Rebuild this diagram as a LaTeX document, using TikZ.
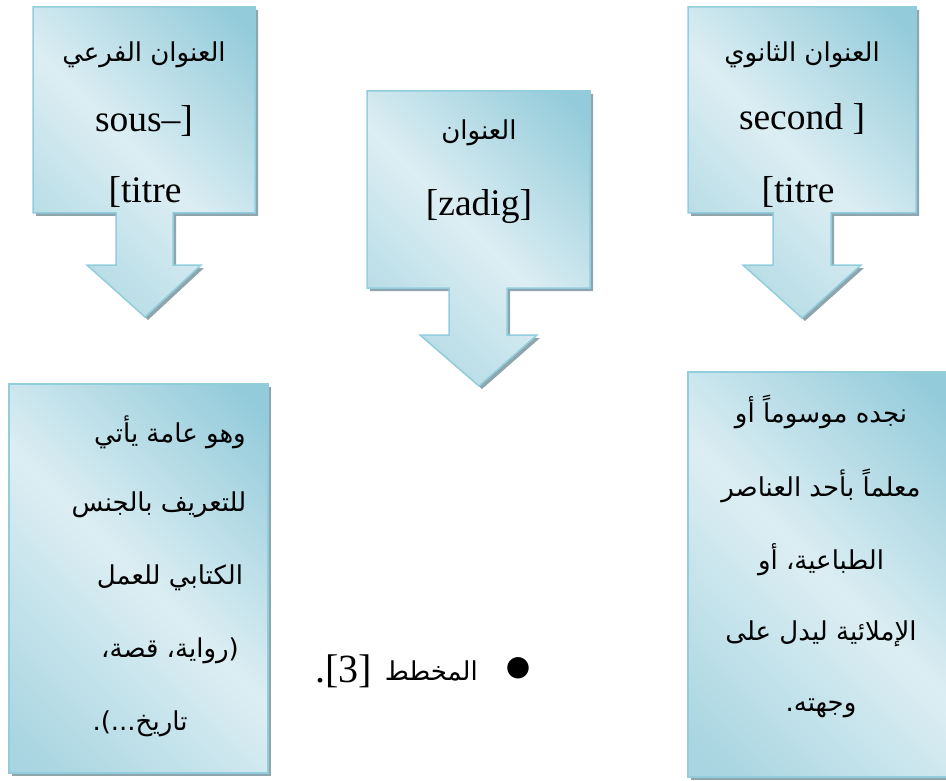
\documentclass[tikz,border=0pt]{standalone}
\usepackage{fontspec}
\TeXXeTstate=1
\newfontfamily\arabicfont[Script=Arabic]{DejaVu Sans}
\newfontfamily\symfont{DejaVu Sans}
\newfontfamily\latinfont{Liberation Serif}
\definecolor{shdark}{HTML}{93CBDA}
\definecolor{shmid}{HTML}{A8D5E1}
\definecolor{shlight}{HTML}{DCEEF3}
\definecolor{bordc}{HTML}{92CDDC}
\definecolor{shadc}{HTML}{8FA5AE}
\pgfdeclarehorizontalshading{boxshade}{100bp}{color(0bp)=(shmid); color(18bp)=(shmid); color(50bp)=(shlight); color(82bp)=(shdark); color(100bp)=(shdark)}
\tikzset{
  panel/.style={shade, shading=boxshade, shading angle=45, draw=bordc, line width=1.5pt, line join=miter},
  shadowfill/.style={fill=shadc, draw=none},
  ar/.style={font=\arabicfont\fontsize{26}{30}\selectfont, inner sep=0pt},
  lat/.style={font=\latinfont\fontsize{37.5}{40}\selectfont, inner sep=0pt, anchor=base},
  latbig/.style={font=\latinfont\fontsize{40}{44}\selectfont, inner sep=0pt, anchor=base east},
  bulletsym/.style={font=\symfont\fontsize{28}{30}\selectfont, inner sep=0pt},
}
\begin{document}
\begin{tikzpicture}[x=1pt,y=-1pt]
\useasboundingbox (0,0) rectangle (946,781);
% ---- shadows ----
\begin{scope}[shift={(3,3)}]
\fill[shadowfill] (33,7) -- (255,7) -- (255,213) -- (173,213) -- (173,265) -- (201,265) -- (145,317) -- (87,265) -- (116,265) -- (116,213) -- (33,213) -- cycle;
\fill[shadowfill] (367,91) -- (590,91) -- (590,288) -- (507,288) -- (507,335) -- (537,335) -- (479,386) -- (420,335) -- (449,335) -- (449,288) -- (367,288) -- cycle;
\fill[shadowfill] (688,7) -- (916,7) -- (916,213) -- (831,213) -- (831,265) -- (861,265) -- (802,318) -- (743,265) -- (773,265) -- (773,213) -- (688,213) -- cycle;
\fill[shadowfill] (9,384) rectangle (268,773);
\fill[shadowfill] (688,372) rectangle (952,777);
\end{scope}
% ---- panels ----
\path[panel] (33,7) -- (255,7) -- (255,213) -- (173,213) -- (173,265) -- (201,265) -- (145,317) -- (87,265) -- (116,265) -- (116,213) -- (33,213) -- cycle;
\path[panel] (367,91) -- (590,91) -- (590,288) -- (507,288) -- (507,335) -- (537,335) -- (479,386) -- (420,335) -- (449,335) -- (449,288) -- (367,288) -- cycle;
\path[panel] (688,7) -- (916,7) -- (916,213) -- (831,213) -- (831,265) -- (861,265) -- (802,318) -- (743,265) -- (773,265) -- (773,213) -- (688,213) -- cycle;
\path[panel] (9,384) rectangle (268,773);
\path[panel] (688,372) rectangle (952,777);
% ---- top texts ----
\node[ar] (t1ar) at (144,55) {\beginR العنوان الفرعي\endR};
\node[lat] (t1a) at (144,132) {sous–]};
\node[lat] (t1b) at (145,203) {{[}titre};
\node[ar] (t2ar) at (479,133) {\beginR العنوان\endR};
\node[lat] (t2a) at (479,215) {{[}zadig]};
\node[ar] (t3ar) at (802,55) {\beginR العنوان الثانوي\endR};
\node[lat] (t3a) at (802,130) {second ]};
\node[lat] (t3b) at (798,203) {{[}titre};
% ---- bottom-left texts ----
\node[ar] (bl1) at (170,432) {\beginR وهو عامة يأتي\endR};
\node[ar] (bl2) at (159,505) {\beginR للتعريف بالجنس\endR};
\node[ar] (bl3) at (170,578) {\beginR الكتابي للعمل\endR};
\node[ar] (bl4) at (170,651) {\beginR (رواية، قصة،\endR};
\node[ar] (bl5) at (140,724) {\beginR تاريخ...).\endR};
% ---- bottom-right texts ----
\node[ar] (br1) at (821,412) {\beginR نجده موسوماً أو\endR};
\node[ar] (br2) at (821,486) {\beginR معلماً بأحد العناصر\endR};
\node[ar] (br3) at (821,560) {\beginR الطباعية، أو\endR};
\node[ar] (br4) at (821,634) {\beginR الإملائية ليدل على\endR};
\node[ar] (br5) at (821,708) {\beginR وجهته.\endR};
% ---- bullet line ----
\node[bulletsym] (bul) at (518,668) {●};
\node[ar, anchor=base east] (mk) at (478,680) {\beginR المخطط\endR};
\node[latbig] (ref) at (372,682) {.{[}3]};
\end{tikzpicture}
\end{document}
